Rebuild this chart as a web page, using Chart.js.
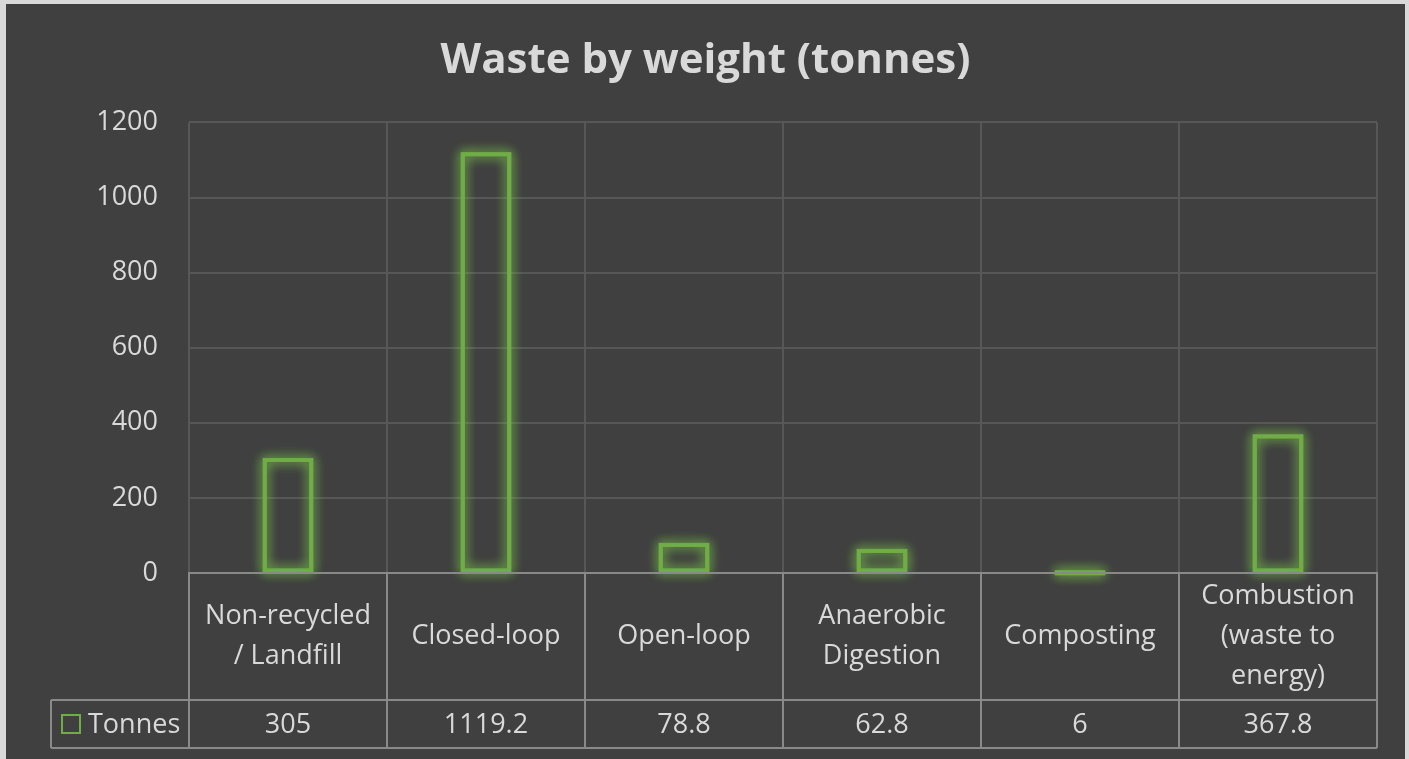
<!DOCTYPE html>
<html>
<head>
<meta charset="utf-8">
<script src="https://cdn.jsdelivr.net/npm/chart.js@4/dist/chart.umd.min.js"></script>
<style>
    html, body { margin: 0; padding: 0; background: #d9d9d9; overflow: hidden; }
    #wrap { position: absolute; left: 6px; top: 4px; width: 1399px; height: 755px; background: #404040; }
</style>
</head>
<body>
<div id="wrap"><canvas id="chart"></canvas></div>
<script>
// chart data
const categories = [
    ['Non-recycled', '/ Landfill'],
    ['Closed-loop'],
    ['Open-loop'],
    ['Anaerobic', 'Digestion'],
    ['Composting'],
    ['Combustion', '(waste to', 'energy)']
];
const tonnes = [305, 1119.2, 78.8, 62.8, 6, 367.8];
const tonnesText = ['305', '1119.2', '78.8', '62.8', '6', '367.8'];
const seriesName = 'Tonnes';
const yTicks = [0, 200, 400, 600, 800, 1000, 1200];

const textColor = '#d9d9d9';
const green = '#70ad47';
const gridColor = '#575757';
const tableColor = '#898989';
const font = '"Open Sans", "Noto Sans", sans-serif';

// soft green glow behind each bar, from the bar elements' own geometry
const glowPlugin = {
    id: 'glow',
    beforeDatasetsDraw(chart) {
        const ctx = chart.ctx;
        ctx.save();
        ctx.strokeStyle = 'rgba(112,173,71,0.85)';
        ctx.lineWidth = 4;
        ctx.shadowColor = 'rgba(120,190,75,1)';
        ctx.shadowBlur = 12;
        chart.getDatasetMeta(0).data.forEach((bar) => {
            const { x, y, base, width } = bar.getProps(['x', 'y', 'base', 'width'], true);
            const h = Math.max(base - y - 3, 1);
            for (let k = 0; k < 2; k++) {
                ctx.strokeRect(x - width / 2 + 1.5, y + 1.5, width - 3, h);
            }
        });
        ctx.restore();
    }
};

// data table under the plot, aligned on the category scale
const tablePlugin = {
    id: 'dataTable',
    afterDraw(chart) {
        const ctx = chart.ctx;
        const xs = chart.scales.x;
        const area = chart.chartArea;
        const half = (xs.getPixelForValue(1) - xs.getPixelForValue(0)) / 2;
        const top = area.bottom;
        const mid = top + 127;
        const bottom = mid + 48;
        const legendLeft = 45;

        ctx.save();
        ctx.strokeStyle = tableColor;
        ctx.lineWidth = 2;
        ctx.beginPath();
        ctx.moveTo(area.left, top); ctx.lineTo(area.right, top);
        ctx.moveTo(legendLeft, mid); ctx.lineTo(area.right, mid);
        ctx.moveTo(legendLeft, bottom); ctx.lineTo(area.right, bottom);
        ctx.moveTo(legendLeft, mid); ctx.lineTo(legendLeft, bottom);
        for (let i = 0; i <= categories.length; i++) {
            const x = Math.round(xs.getPixelForValue(i) - half);
            ctx.moveTo(x, top); ctx.lineTo(x, bottom);
        }
        ctx.stroke();

        ctx.fillStyle = textColor;
        ctx.font = '27px ' + font;
        ctx.textAlign = 'center';
        ctx.textBaseline = 'middle';
        const lineH = 40;
        const catMid = (top + mid) / 2;
        categories.forEach((lines, i) => {
            const cx = xs.getPixelForValue(i);
            const y0 = catMid - (lines.length - 1) * lineH / 2;
            lines.forEach((t, j) => ctx.fillText(t, cx, y0 + j * lineH));
            ctx.fillText(tonnesText[i], cx, (mid + bottom) / 2 + 1);
        });

        // legend key
        const valMid = (mid + bottom) / 2;
        ctx.strokeStyle = green;
        ctx.strokeRect(56, valMid - 9, 18, 18);
        ctx.textAlign = 'left';
        ctx.fillText(seriesName, 82, valMid + 1);
        ctx.restore();
    }
};

new Chart(document.getElementById('chart'), {
    type: 'bar',
    data: {
        labels: categories,
        datasets: [{
            label: seriesName,
            data: tonnes,
            backgroundColor: 'rgba(0,0,0,0)',
            borderColor: green,
            borderWidth: 3,
            borderSkipped: false,
            barPercentage: 0.25,
            categoryPercentage: 1
        }]
    },
    options: {
        responsive: true,
        maintainAspectRatio: false,
        animation: false,
        layout: { padding: 0 },
        plugins: {
            legend: { display: false },
            tooltip: { enabled: false },
            title: {
                display: true,
                text: 'Waste by weight (tonnes)',
                color: textColor,
                font: { family: font, size: 42, weight: 'bold', lineHeight: 1.2 },
                padding: { top: 32, bottom: 36 }
            }
        },
        scales: {
            x: {
                ticks: { display: false },
                grid: { color: gridColor, lineWidth: 2, drawTicks: false, offset: true },
                border: { display: true, color: tableColor, width: 2 },
                afterFit(scale) { scale.height = 186; }
            },
            y: {
                min: 0,
                max: 1200,
                afterBuildTicks(scale) { scale.ticks = yTicks.map((v) => ({ value: v })); },
                ticks: {
                    color: textColor,
                    font: { family: font, size: 27 },
                    padding: 31,
                    callback: (v) => String(v)
                },
                grid: { color: gridColor, lineWidth: 2, drawTicks: false },
                border: { display: false },
                afterFit(scale) { scale.width = 183; }
            },
            // empty right-hand gutter so the title stays centred on the whole chart
            gutter: {
                position: 'right',
                display: true,
                ticks: { display: false },
                grid: { display: false, drawTicks: false },
                border: { display: false },
                afterFit(scale) { scale.width = 28; }
            }
        }
    },
    plugins: [glowPlugin, tablePlugin]
});
</script>
</body>
</html>
